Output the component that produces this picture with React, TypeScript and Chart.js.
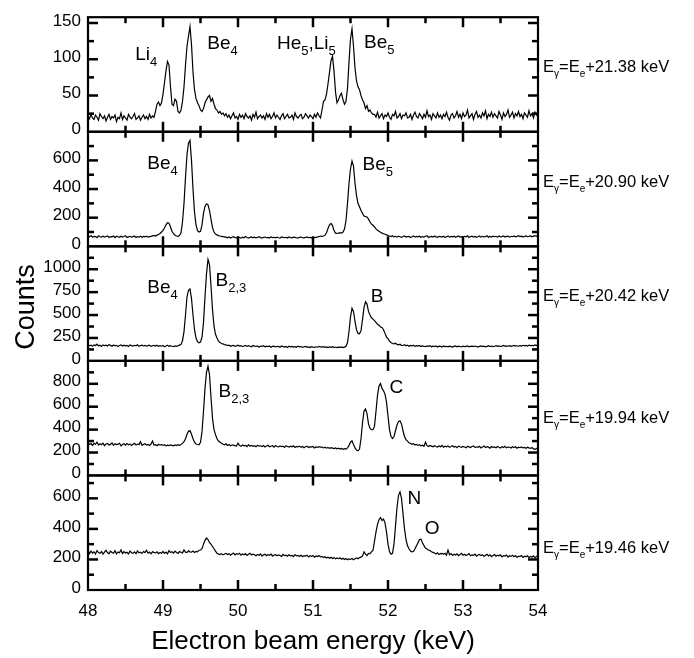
import React, { useEffect, useRef } from 'react';
import { Chart, registerables } from 'chart.js';

Chart.register(...registerables);

const FONT = '"Liberation Sans", Arial, Helvetica, sans-serif';

// Energy axis (keV): channels every 0.02 keV from 48.00 to 54.00
const ENERGY_START = 48;
const ENERGY_STEP = 0.02;
const X_MIN = 48;
const X_MAX = 54;
const X_TICKS = [48, 49, 50, 51, 52, 53, 54];

// Panel 1: E_gamma = E_e + 21.38 keV
const COUNTS_2138 = [
  22,18,24,19,17,23,20,16,25,21,18,22,15,20,24,17,21,19,23,14,20,18,26,17,22,19,16,24,20,18,21,25,17,19,22,16,20,23,18,21,17,24,19,22,20,
  28,38,41,36,40,52,68,84,97,92,62,38,36,45,42,28,26,30,42,62,92,118,132,145,120,82,58,46,40,36,30,28,32,40,44,48,50,42,46,38,32,30,26,28,24,26,22,
  25,20,23,18,22,26,19,21,17,24,20,23,18,25,21,19,22,16,24,20,27,18,21,23,19,22,17,25,20,24,18,21,26,19,23,20,17,22,25,18,21,24,19,20,23,17,26,21,19,22,24,18,20,25,22,19,23,21,18,24,20,26,22,19,
  30,42,44,52,66,82,98,104,84,55,40,44,50,53,44,38,42,60,96,128,142,118,88,70,62,58,50,44,40,32,36,28,30,26,24,
  24,20,27,19,22,25,18,23,21,26,20,17,24,22,28,19,21,25,18,23,22,26,19,20,24,17,23,27,21,19,
  25,22,18,24,20,29,21,23,17,25,22,19,26,20,23,18,24,21,27,20,16,23,25,19,22,28,20,24,18,26,
  21,23,30,19,22,25,17,24,28,20,23,19,26,22,29,18,24,21,27,20,25,22,19,28,23,17,26,21,24,30,
  20,23,27,19,25,22,28,21,24,18,26,23,20,29,22,25,19,27,23,24,
];

// Panel 2: E_gamma = E_e + 20.90 keV
const COUNTS_2090 = [
  72,66,75,63,70,68,61,74,67,65,71,64,69,73,62,68,66,72,60,70,67,63,71,65,69,74,62,66,70,64,68,72,61,67,65,70,63,69,66,71,64,68,70,73,76,
  72,78,82,90,100,112,128,150,165,162,135,105,88,78,72,70,75,95,170,300,480,640,720,740,600,400,240,150,110,100,105,150,230,280,297,290,250,190,130,100,85,80,75,72,70,68,66,
  64,60,66,58,63,67,61,59,65,62,57,64,60,68,62,58,63,66,60,64,59,62,67,61,57,63,65,60,62,58,66,61,63,59,64,60,57,65,62,60,63,58,66,61,59,64,62,60,57,63,65,61,59,62,66,60,63,58,64,61,62,66,68,72,
  70,72,78,95,125,150,160,145,110,92,90,92,95,92,100,120,180,300,440,540,596,560,440,354,300,276,250,230,212,207,205,190,170,155,147,
  135,122,112,105,98,92,88,84,80,76,72,68,74,66,70,64,71,67,63,69,72,65,68,70,62,67,73,64,69,66,
  71,63,68,65,70,74,62,67,69,64,72,66,63,70,68,65,71,62,67,73,64,69,66,70,63,68,72,65,67,64,
  70,66,73,62,68,71,65,69,63,67,72,64,70,66,68,74,63,69,65,71,67,70,64,72,66,68,73,65,69,71,
  64,70,67,72,66,69,74,68,71,65,70,73,67,69,72,66,71,75,70,78,
];

// Panel 3: E_gamma = E_e + 20.42 keV
const COUNTS_2042 = [
  178,165,172,160,175,168,182,163,170,158,174,166,171,162,177,169,160,173,165,170,156,168,175,162,171,164,169,158,173,166,161,170,164,176,159,167,172,163,169,160,166,171,158,165,168,
  162,170,158,166,160,168,155,163,170,158,165,160,156,163,158,165,172,180,220,320,500,700,770,785,680,500,340,250,210,197,205,260,420,700,950,1108,1050,820,560,380,290,250,215,200,190,185,178,
  175,168,172,160,166,170,158,164,171,162,167,155,163,169,158,165,160,154,168,161,157,164,150,162,158,166,153,160,155,163,149,158,161,152,159,156,148,162,155,151,158,146,160,153,157,150,155,148,161,152,156,147,154,158,150,153,145,156,151,148,154,149,157,152,
  150,156,148,153,145,152,148,155,146,151,144,150,147,153,145,150,160,200,320,480,575,540,430,340,300,295,330,450,580,645,620,540,500,470,455,
  440,420,400,390,370,365,340,300,260,242,215,200,190,185,192,180,175,182,170,168,176,165,172,160,168,163,170,158,166,161,
  168,157,164,160,155,163,158,166,154,161,157,163,152,160,158,150,162,155,159,153,161,156,150,158,163,154,160,157,152,161,
  155,159,163,153,158,160,155,162,157,150,159,163,156,161,154,158,165,157,162,155,160,166,158,163,157,161,168,159,164,160,
  166,158,163,169,161,165,160,167,162,170,164,168,161,172,166,170,164,175,168,178,
];

// Panel 4: E_gamma = E_e + 19.94 keV
const COUNTS_1994 = [
  285,270,278,262,280,272,290,265,276,268,282,260,274,279,266,271,284,263,277,269,273,281,258,270,276,264,279,268,275,262,272,280,266,274,269,295,263,271,277,265,270,262,274,300,265,
  268,260,272,264,270,262,268,258,265,260,267,262,258,266,261,268,263,270,280,295,320,360,385,391,360,320,290,275,270,268,290,380,560,760,900,954,880,680,500,400,356,320,300,290,280,272,268,
  276,262,270,258,265,265,260,256,282,262,254,266,259,263,251,268,257,262,255,260,250,264,256,259,252,261,248,257,263,250,255,259,247,262,253,249,258,251,256,245,260,252,248,255,250,258,244,253,249,256,246,252,241,250,255,243,251,247,253,240,249,245,252,247,
  248,240,246,238,244,236,242,238,234,240,232,238,230,236,228,234,230,240,262,290,302,270,240,222,215,230,320,460,560,580,540,450,410,400,399,
  430,560,700,780,802,760,740,710,640,520,400,340,322,340,390,440,470,477,450,390,340,313,300,285,280,272,278,266,270,262,
  268,258,264,255,290,260,252,262,256,250,259,253,248,257,251,262,246,255,250,258,245,252,260,248,254,243,256,250,246,253,
  248,241,255,249,244,252,258,243,250,246,254,240,248,256,243,251,247,238,252,245,249,242,253,246,240,250,244,255,241,248,
  246,239,251,244,250,237,246,242,249,240,245,238,247,241,236,244,232,228,235,230,
];

// Panel 5: E_gamma = E_e + 19.46 keV
const COUNTS_1946 = [
  262,238,255,242,250,236,258,245,240,252,235,248,260,243,238,254,246,241,257,237,249,244,262,239,251,242,247,236,255,244,240,250,238,256,243,247,239,252,245,260,241,248,237,250,246,
  243,250,238,246,241,252,240,248,236,258,245,250,242,255,246,240,252,247,243,262,248,245,256,250,248,255,246,252,250,260,262,270,300,325,340,330,310,300,285,270,255,240,235,232,238,230,236,
  240,232,238,228,236,242,230,237,233,240,228,236,231,238,226,234,240,229,235,231,224,233,228,236,222,230,234,225,231,227,235,222,229,232,224,230,226,220,233,225,228,221,230,224,227,219,232,223,226,220,229,218,225,222,228,216,224,220,226,215,223,219,226,217,
  220,212,218,210,215,208,214,206,212,204,210,205,211,202,208,200,206,198,204,200,206,198,204,210,205,212,215,222,250,235,225,240,238,250,260,
  320,380,430,460,474,455,465,440,380,300,250,235,240,300,420,540,620,642,600,500,400,330,290,270,255,250,252,270,290,310,
  330,333,310,290,275,268,262,258,250,246,
  242,236,244,232,238,240,234,240,228,262,231,239,226,234,229,237,225,232,240,228,234,226,231,238,224,230,227,235,222,229,
  233,225,231,220,228,234,223,230,218,226,232,221,228,224,230,217,225,222,229,215,224,220,227,218,225,213,222,219,226,214,
  221,217,224,212,220,216,223,211,219,225,
];

const SERIES = [COUNTS_2138, COUNTS_2090, COUNTS_2042, COUNTS_1994, COUNTS_1946];
const PANEL_OFFSETS = ['21.38', '20.90', '20.42', '19.94', '19.46'];
const Y_MAX = [158, 800, 1250, 1000, 750];
const Y_TICKS = [
  [0, 50, 100, 150],
  [0, 200, 400, 600],
  [0, 250, 500, 750, 1000],
  [0, 200, 400, 600, 800],
  [0, 200, 400, 600],
];
const Y_MINOR_STEP = [25, 100, 125, 100, 100];
// vertical position (in counts of each panel) of the right-hand labels
const LABEL_COUNTS = [89.5, 446, 708, 505, 273];

type Part = [string, boolean];
// peak annotations: panel index, energy, counts (text baseline), text parts (true = subscript)
const ANNOTATIONS: { panel: number; x: number; y: number; parts: Part[] }[] = [
  { panel: 0, x: 48.63, y: 99.5, parts: [['Li', false], ['4', true]] },
  { panel: 0, x: 49.59, y: 113.5, parts: [['Be', false], ['4', true]] },
  { panel: 0, x: 50.52, y: 113.5, parts: [['He', false], ['5', true], [',', false], ['Li', false], ['5', true]] },
  { panel: 0, x: 51.68, y: 115, parts: [['Be', false], ['5', true]] },
  { panel: 1, x: 48.79, y: 537, parts: [['Be', false], ['4', true]] },
  { panel: 1, x: 51.66, y: 532, parts: [['Be', false], ['5', true]] },
  { panel: 2, x: 48.79, y: 736, parts: [['Be', false], ['4', true]] },
  { panel: 2, x: 49.70, y: 814, parts: [['B', false], ['2,3', true]] },
  { panel: 2, x: 51.77, y: 646, parts: [['B', false]] },
  { panel: 3, x: 49.74, y: 684, parts: [['B', false], ['2,3', true]] },
  { panel: 3, x: 52.02, y: 721, parts: [['C', false]] },
  { panel: 4, x: 52.26, y: 563, parts: [['N', false]] },
  { panel: 4, x: 52.49, y: 365, parts: [['O', false]] },
];

const PANEL_IDS = ['p1', 'p2', 'p3', 'p4', 'p5'];

function drawParts(ctx: CanvasRenderingContext2D, parts: Part[], x: number, y: number, size: number, subSize: number, drop: number) {
  for (const [t, sub] of parts) {
    ctx.font = `${sub ? subSize : size}px ${FONT}`;
    ctx.fillText(t, x, sub ? y + drop : y);
    x += ctx.measureText(t).width;
  }
}

const framePlugin = {
  id: 'panelFrames',
  afterDraw(chart: any) {
    const ctx: CanvasRenderingContext2D = chart.ctx;
    const left = chart.chartArea.left;
    const right = chart.chartArea.right;
    const xs = chart.scales.x;
    ctx.save();

    ctx.fillStyle = '#000';
    ctx.textBaseline = 'alphabetic';
    ctx.textAlign = 'left';
    PANEL_IDS.forEach((id, p) => {
      const s = chart.scales[id];
      const ly = s.getPixelForValue(LABEL_COUNTS[p]) + 5;
      drawParts(ctx, [['E', false], ['\u03b3', true], ['=E', false], ['e', true], ['+' + PANEL_OFFSETS[p] + ' keV', false]], right + 5, ly, 16.5, 10, 5);
    });
    for (const a of ANNOTATIONS) {
      const s = chart.scales[PANEL_IDS[a.panel]];
      drawParts(ctx, a.parts, xs.getPixelForValue(a.x), s.getPixelForValue(a.y), 19, 13, 6);
    }
    ctx.save();
    ctx.translate(27, 307);
    ctx.rotate(-Math.PI / 2);
    ctx.textAlign = 'center';
    ctx.textBaseline = 'middle';
    ctx.font = `27px ${FONT}`;
    ctx.fillText('Counts', 0, 0);
    ctx.restore();

    // panel frames
    ctx.strokeStyle = '#000';
    ctx.lineWidth = 2.2;
    PANEL_IDS.forEach((id) => {
      const s = chart.scales[id];
      ctx.strokeRect(left, s.top, right - left, s.bottom - s.top);
    });

    // inward tick marks, drawn last
    ctx.fillStyle = 'rgb(0,0,0)';
    PANEL_IDS.forEach((id, p) => {
      const s = chart.scales[id];
      const step = Y_MINOR_STEP[p];
      for (let k = 1; k * step < Y_MAX[p]; k++) {
        const len = k % 2 === 0 ? 10 : 6;
        const py = s.getPixelForValue(k * step);
        ctx.fillRect(left, py - 1.25, len, 2.5);
        ctx.fillRect(right - len, py - 1.25, len, 2.5);
      }
      for (let k = 1; k < (X_MAX - X_MIN) * 2; k++) {
        const len = k % 2 === 0 ? 10 : 6;
        const px = xs.getPixelForValue(X_MIN + k * 0.5);
        ctx.fillRect(px - 1.25, s.top, 2.5, len);
        ctx.fillRect(px - 1.25, s.bottom - len, 2.5, len);
      }
    });
    ctx.restore();
  },
};

export default function App() {
  const ref = useRef<HTMLCanvasElement>(null);
  useEffect(() => {
    if (!ref.current) return;
    const scales: any = {
      x: {
        type: 'linear',
        position: 'bottom',
        min: X_MIN,
        max: X_MAX,
        afterBuildTicks: (s: any) => {
          s.ticks = X_TICKS.map((v) => ({ value: v }));
        },
        afterFit: (s: any) => {
          s.height = 68;
        },
        grid: { display: false, drawTicks: false },
        border: { display: false },
        ticks: { font: { family: FONT, size: 17 }, color: '#000', padding: 11, maxRotation: 0, autoSkip: false, callback: (v: any) => String(v) },
        title: {
          display: true,
          text: 'Electron beam energy (keV)',
          font: { family: FONT, size: 26 },
          color: '#000',
          padding: { top: 0, bottom: 1 },
        },
      },
    };
    PANEL_IDS.forEach((id, p) => {
      scales[id] = {
        type: 'linear',
        position: 'left',
        stack: 'panels',
        stackWeight: 1,
        weight: 5 - p,
        min: 0,
        max: Y_MAX[p],
        afterBuildTicks: (s: any) => {
          s.ticks = Y_TICKS[p].map((v) => ({ value: v }));
        },
        afterFit: (s: any) => {
          s.width = 50;
        },
        grid: { display: false, drawTicks: false },
        border: { display: false },
        ticks: { font: { family: FONT, size: 17 }, color: '#000', padding: 7, labelOffset: -2, autoSkip: false, callback: (v: any) => String(v) },
      };
    });
    const datasets = SERIES.map((counts, p) => ({
      data: counts.map((c, i) => ({ x: ENERGY_START + i * ENERGY_STEP, y: c })),
      xAxisID: 'x',
      yAxisID: PANEL_IDS[p],
      borderColor: '#000',
      borderWidth: 1.2,
      pointRadius: 0,
      fill: false,
      tension: 0,
    }));
    const chart = new Chart(ref.current, {
      type: 'line',
      data: { datasets },
      options: {
        responsive: false,
        animation: false,
        events: [],
        layout: { padding: { left: 38, right: 156, top: 10, bottom: 0 } },
        plugins: { legend: { display: false }, tooltip: { enabled: false } },
        scales,
      },
      plugins: [framePlugin],
    } as any);
    return () => chart.destroy();
  }, []);
  return (
    <div style={{ position: 'fixed', left: 0, top: 0, width: 694, height: 658, background: '#fff' }}>
      <canvas ref={ref} width={694} height={658} style={{ display: 'block' }} />
    </div>
  );
}
